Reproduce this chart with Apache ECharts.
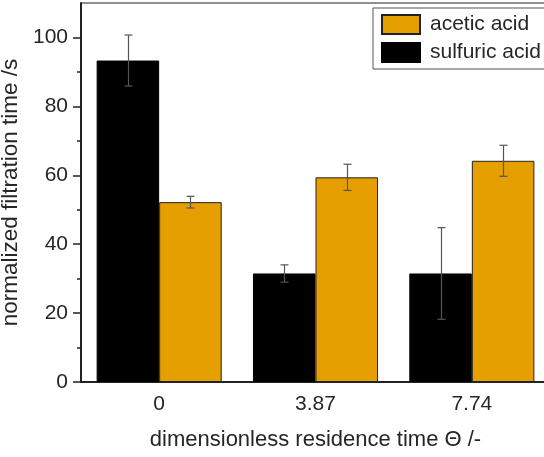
<!DOCTYPE html>
<html><head><meta charset="utf-8">
<script src="https://cdn.jsdelivr.net/npm/echarts@6/dist/echarts.min.js"></script>
<style>html,body{margin:0;padding:0;background:#fff}#c{width:544px;height:457px}</style>
</head><body><div id="c"></div>
<script>
const categories = ['0', '3.87', '7.74'];
const sulfuric = [93.3, 31.5, 31.5];
const sulfuricErr = [7.4, 2.5, 13.3];
const acetic = [52.2, 59.4, 64.2];
const aceticErr = [1.7, 3.8, 4.5];
const yMajor = [0, 20, 40, 60, 80, 100];
const yMinor = [10, 30, 50, 70, 90];

const font = '"Liberation Sans", Arial, sans-serif';
const txt = '#262626';

const errData = [];
categories.forEach((c, i) => {
  errData.push([i, sulfuric[i] - sulfuricErr[i], sulfuric[i] + sulfuricErr[i], -1]);
  errData.push([i, acetic[i] - aceticErr[i], acetic[i] + aceticErr[i], 1]);
});

const chart = echarts.init(document.getElementById('c'), null, {renderer: 'canvas'});
chart.setOption({
  animation: false,
  grid: {left: 81, right: -6, top: 3, bottom: 75, containLabel: false, outerBoundsMode: 'none',
         show: true, borderColor: '#222', borderWidth: 1, backgroundColor: 'transparent'},
  legend: {
    orient: 'vertical', left: 373, top: 8,
    data: ['acetic acid', 'sulfuric acid'],
    icon: 'rect',
    itemWidth: 38, itemHeight: 19, itemGap: 7,
    padding: [6, 30, 6, 8],
    borderColor: '#555', borderWidth: 1,
    textStyle: {fontFamily: font, fontSize: 21, color: txt, padding: [0, 0, 0, 5]}
  },
  xAxis: [{
    type: 'category', data: categories,
    name: 'dimensionless residence time \u0398 /-', nameLocation: 'middle', nameGap: 47,
    nameTextStyle: {fontFamily: font, fontSize: 22, color: txt},
    axisLine: {lineStyle: {color: '#222', width: 2}},
    axisTick: {alignWithLabel: true, length: 7, lineStyle: {color: '#222', width: 1.5}},
    axisLabel: {fontFamily: font, fontSize: 21, color: txt, margin: 12}
  }, {
    type: 'category', data: categories, position: 'bottom',
    axisLine: {show: false},
    axisTick: {length: 4, lineStyle: {color: '#222', width: 1.5}},
    axisLabel: {show: false}
  }],
  yAxis: [{
    type: 'value', min: 0, max: 110,
    name: 'normalized filtration time /s', nameLocation: 'middle', nameGap: 50,
    nameTextStyle: {fontFamily: font, fontSize: 22.5, color: txt},
    axisLine: {show: true, lineStyle: {color: '#222', width: 2}},
    axisTick: {show: true, length: 8, customValues: yMajor, lineStyle: {color: '#222', width: 1.5}},
    axisLabel: {fontFamily: font, fontSize: 21, color: txt, margin: 13, customValues: yMajor},
    splitLine: {show: false}
  }, {
    type: 'value', min: 0, max: 110, position: 'left',
    axisLine: {show: false},
    axisTick: {show: true, length: 4, customValues: yMinor, lineStyle: {color: '#222', width: 1.5}},
    axisLabel: {show: false},
    splitLine: {show: false}
  }],
  series: [{
    name: 'sulfuric acid', type: 'bar', data: sulfuric,
    barGap: '0%', barCategoryGap: '20%',
    itemStyle: {color: '#000', borderColor: '#000', borderWidth: 1}
  }, {
    name: 'acetic acid', type: 'bar', data: acetic,
    barGap: '0%', barCategoryGap: '20%',
    itemStyle: {color: '#E5A000', borderColor: '#222', borderWidth: 1}
  }, {
    type: 'custom', data: errData, z: 10,
    encode: {x: 0, y: [1, 2]},
    renderItem: function (params, api) {
      const idx = api.value(0);
      const lo = api.coord([idx, api.value(1)]);
      const hi = api.coord([idx, api.value(2)]);
      const band = api.size([1, 0])[0];
      const x = Math.round(lo[0] + api.value(3) * band * 0.2) + 0.5;
      const cap = 4;
      const style = {stroke: '#555', lineWidth: 1.2};
      return {type: 'group', children: [
        {type: 'line', shape: {x1: x, y1: hi[1], x2: x, y2: lo[1]}, style: style},
        {type: 'line', shape: {x1: x - cap, y1: hi[1], x2: x + cap, y2: hi[1]}, style: style},
        {type: 'line', shape: {x1: x - cap, y1: lo[1], x2: x + cap, y2: lo[1]}, style: style}
      ]};
    }
  }]
});
</script></body></html>
